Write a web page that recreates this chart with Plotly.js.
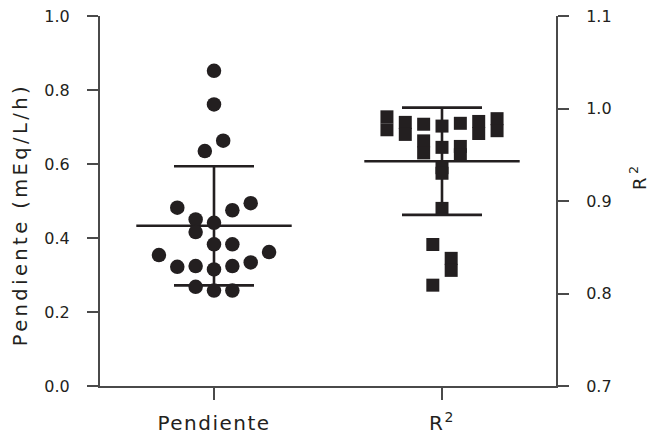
<!DOCTYPE html>
<html>
<head>
<meta charset="utf-8">
<script src="https://cdn.plot.ly/plotly-3.0.1.min.js"></script>
<style>
  html, body { margin: 0; padding: 0; background: #fff; }
  #chart { width: 650px; height: 437px; }
  .xtick text { letter-spacing: 1.5px; }
  text.annotation-text { letter-spacing: 3.4px; }
</style>
</head>
<body>
<div id="chart"></div>
<script>
// ---- data ----
const categories = ['Pendiente', 'R<sup>2</sup>'];

// Pendiente (mEq/L/h): values and their swarm lane (column) in the dot plot
const pendValues = [0.852, 0.761, 0.663, 0.635, 0.494, 0.482, 0.475, 0.450, 0.441, 0.416, 0.383,
                    0.383, 0.362, 0.354, 0.334, 0.324, 0.324, 0.322, 0.315, 0.268, 0.258, 0.258];
const pendLanes  = [0, 0, 0.5, -0.5, 2, -2, 1, -1, 0, -1, 0,
                    1, 3, -3, 2, 1, -1, -2, 0, -1, 0, 1];

// R² values and their swarm lane
const r2Values = [0.991, 0.977, 0.985, 0.972, 0.983, 0.981, 0.984, 0.986, 0.973, 0.989, 0.976,
                  0.965, 0.952, 0.958, 0.959, 0.950, 0.936, 0.930, 0.892, 0.853, 0.838, 0.825, 0.809];
const r2Lanes  = [-3, -3, -2, -2, -1, 0, 1, 2, 2, 3, 3,
                  -1, -1, 0, 1, 1, 0, 0, 0, -0.5, 0.5, 0.5, -0.5];

// mean ± SD shown on the chart
const means = [0.433, 0.943];
const sds   = [0.161, 0.058];

// ---- styling ----
const INK = '#231f20';
const AXIS = '#4a4a4a';
const FONT = 'DejaVu Sans, sans-serif';
const laneWidth = 0.0805;

const pendX = pendLanes.map(l => 0 + l * laneWidth);
const r2X = r2Lanes.map(l => 1 + l * laneWidth);

const summary = (i, yaxis) => ({
  type: 'scatter', mode: 'markers', x: [i], y: [means[i]], yaxis: yaxis,
  marker: { symbol: 'line-ew', size: 111, color: INK, line: { color: INK, width: 2.6 } },
  error_y: { type: 'data', array: [sds[i]], visible: true, width: 40, thickness: 2.6, color: INK },
  cliponaxis: false, hoverinfo: 'skip', showlegend: false
});

const traces = [
  summary(0, 'y'),
  summary(1, 'y2'),
  { type: 'scatter', mode: 'markers', x: pendX, y: pendValues, yaxis: 'y',
    marker: { symbol: 'circle', size: 14.5, color: INK, line: { width: 0 } },
    cliponaxis: false, showlegend: false },
  { type: 'scatter', mode: 'markers', x: r2X, y: r2Values, yaxis: 'y2',
    marker: { symbol: 'square', size: 13, color: INK, line: { width: 0 } },
    cliponaxis: false, showlegend: false }
];

const layout = {
  width: 650, height: 437,
  margin: { l: 100, r: 94, t: 16, b: 51, pad: 0 },
  paper_bgcolor: '#fff', plot_bgcolor: '#fff',
  font: { family: FONT, color: INK, size: 16 },
  showlegend: false,
  xaxis: {
    range: [-0.5, 1.5], tickmode: 'array', tickvals: [0, 1], ticktext: categories,
    showgrid: false, zeroline: false, showline: true, linecolor: AXIS, linewidth: 2,
    ticks: 'outside', ticklen: 12, tickwidth: 2, tickcolor: AXIS,
    tickfont: { size: 20, family: FONT, color: INK }, ticklabelstandoff: 6
  },
  yaxis: {
    range: [0, 1.0], dtick: 0.2, tick0: 0, tickformat: '.1f',
    showgrid: false, zeroline: false, showline: true, linecolor: AXIS, linewidth: 2,
    ticks: 'outside', ticklen: 11, tickwidth: 2, tickcolor: AXIS,
    tickfont: { size: 16, family: FONT, color: INK }, ticklabelstandoff: 14
  },
  yaxis2: {
    overlaying: 'y', side: 'right', range: [0.7, 1.1], dtick: 0.1, tick0: 0.7, tickformat: '.1f',
    showgrid: false, zeroline: false, showline: true, linecolor: AXIS, linewidth: 2,
    ticks: 'outside', ticklen: 11, tickwidth: 2, tickcolor: AXIS,
    tickfont: { size: 16, family: FONT, color: INK }, ticklabelstandoff: 14
  },
  annotations: [
    { text: 'Pendiente (mEq/L/h)', xref: 'paper', yref: 'paper', x: -0.175, y: 0.462,
      xanchor: 'center', yanchor: 'middle', textangle: -90, showarrow: false,
      font: { size: 19.5, family: FONT, color: INK } },
    { text: 'R<sup>2</sup>', xref: 'paper', yref: 'paper', x: 1.18, y: 0.565,
      xanchor: 'center', yanchor: 'middle', textangle: -90, showarrow: false,
      font: { size: 18, family: FONT, color: INK } }
  ]
};

Plotly.newPlot('chart', traces, layout, { displayModeBar: false, staticPlot: true });
</script>
</body>
</html>
